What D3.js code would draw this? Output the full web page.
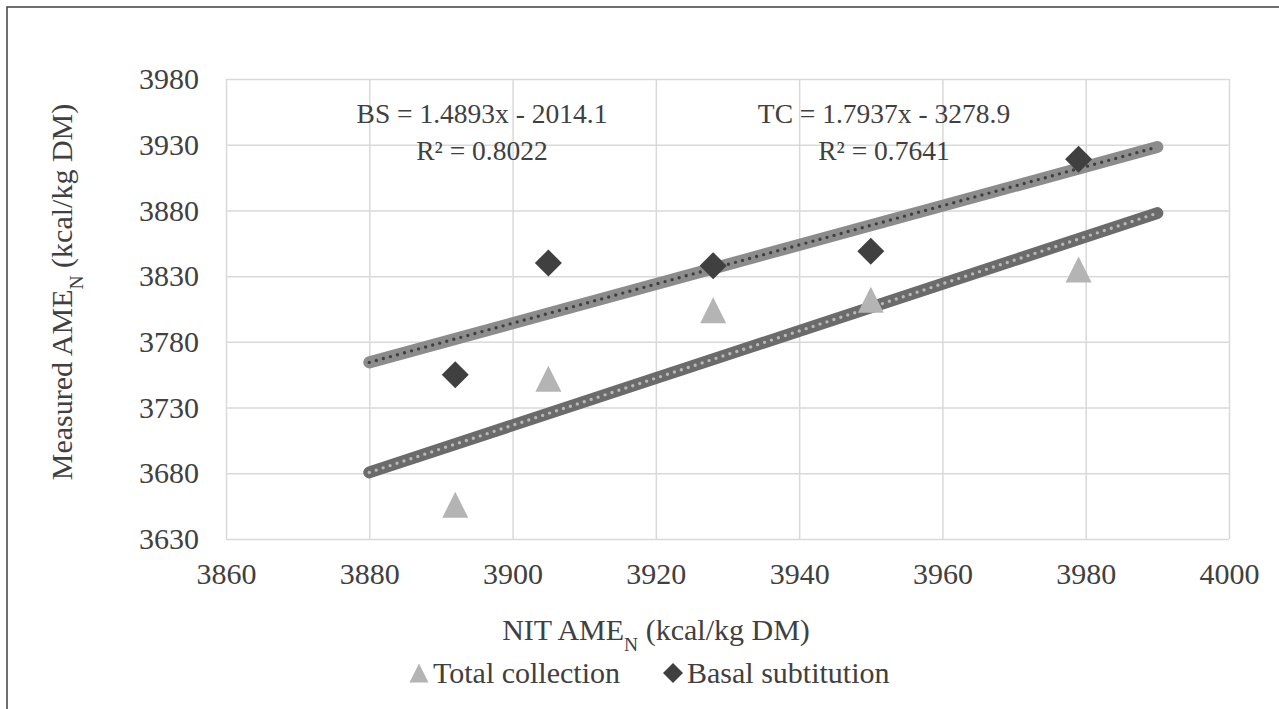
<!DOCTYPE html>
<html>
<head>
<meta charset="utf-8">
<script src="https://cdn.jsdelivr.net/npm/d3@7"></script>
<style>
body{margin:0;background:#fff;}
text{font-family:"Liberation Serif","Times New Roman",serif;fill:#404040;}
</style>
</head>
<body>
<svg id="chart" width="1279" height="709"></svg>
<script>
// values
var nitValues = [3892, 3905, 3928, 3950, 3979];
var totalCollection = [3656, 3752, 3804, 3812, 3835];
var basalSubstitution = [3755, 3840, 3838, 3849, 3919];

var xTicks = [3860, 3880, 3900, 3920, 3940, 3960, 3980, 4000];
var yTicks = [3630, 3680, 3730, 3780, 3830, 3880, 3930, 3980];

// trendlines as printed on the chart
var trendNames = ["BS", "TC"];
var trendSlopes = [1.4893, 1.7937];
var trendIntercepts = [-2014.1, -3278.9];
var trendR2 = [0.8022, 0.7641];
var trendFrom = 3880;
var trendTo = 3990;

var legendNames = ["Total collection", "Basal subtitution"];

var plotLeft = 226, plotRight = 1229, plotTop = 79, plotBottom = 539;
var fontSize = 30;

var svg = d3.select("#chart");

// outer chart border (only top/left visible in the picture)
svg.append("rect")
    .attr("x", 7).attr("y", 7)
    .attr("width", 1400).attr("height", 800)
    .attr("fill", "none")
    .attr("stroke", "#404040")
    .attr("stroke-width", 1.5);

var x = d3.scaleLinear().domain([3860, 4000]).range([plotLeft, plotRight]);
var y = d3.scaleLinear().domain([3630, 3980]).range([plotBottom, plotTop]);

var xAxis = svg.append("g")
    .attr("transform", "translate(0," + plotBottom + ")")
    .call(d3.axisBottom(x).tickValues(xTicks).tickFormat(d3.format("d"))
        .tickSizeInner(-(plotBottom - plotTop)).tickSizeOuter(0).tickPadding(24));

var yAxis = svg.append("g")
    .attr("transform", "translate(" + plotLeft + ",0)")
    .call(d3.axisLeft(y).tickValues(yTicks).tickFormat(d3.format("d"))
        .tickSizeInner(-(plotRight - plotLeft)).tickSizeOuter(0).tickPadding(27));

[xAxis, yAxis].forEach(function(g){
    g.select(".domain").remove();
    g.selectAll(".tick line").attr("stroke", "#d9d9d9").attr("stroke-width", 1.5);
    g.selectAll(".tick text")
        .attr("fill", "#404040")
        .style("font-size", fontSize + "px")
        .style("font-family", "'Liberation Serif','Times New Roman',serif");
});

// trend lines: thick band + dotted line on top
var bandColors = ["#8c8c8c", "#6b6b6b"];
var dotColors = ["#404040", "#b8b8b8"];

trendNames.forEach(function(name, i){
    var ends = [trendFrom, trendTo].map(function(v){
        return [v, trendSlopes[i] * v + trendIntercepts[i]];
    });
    var line = d3.line()
        .x(function(d){ return x(d[0]); })
        .y(function(d){ return y(d[1]); });

    svg.append("path")
        .attr("d", line(ends))
        .attr("stroke", bandColors[i])
        .attr("stroke-width", 12)
        .attr("stroke-linecap", "round")
        .attr("fill", "none");

    svg.append("path")
        .attr("d", line(ends))
        .attr("stroke", dotColors[i])
        .attr("stroke-width", 3.4)
        .attr("stroke-linecap", "round")
        .attr("stroke-dasharray", "0 7.3")
        .attr("fill", "none");
});

function trianglePath(s){
    return "M0," + (-s / 2) + "L" + (s / 2) + "," + (s / 2) + "L" + (-s / 2) + "," + (s / 2) + "Z";
}
function diamondPath(s){
    return "M0," + (-s / 2) + "L" + (s / 2) + ",0L0," + (s / 2) + "L" + (-s / 2) + ",0Z";
}

svg.selectAll("path.tc")
    .data(totalCollection)
    .enter()
    .append("path")
    .attr("class", "tc")
    .attr("d", trianglePath(26))
    .attr("fill", "#b4b4b4")
    .attr("transform", function(d, i){ return "translate(" + x(nitValues[i]) + "," + y(d) + ")"; });

svg.selectAll("path.bs")
    .data(basalSubstitution)
    .enter()
    .append("path")
    .attr("class", "bs")
    .attr("d", diamondPath(27))
    .attr("fill", "#404040")
    .attr("transform", function(d, i){ return "translate(" + x(nitValues[i]) + "," + y(d) + ")"; });

// equation labels
var labelX = [482, 884];
trendNames.forEach(function(name, i){
    var t = svg.append("text")
        .attr("text-anchor", "middle")
        .style("font-size", "27.5px");
    t.append("tspan")
        .attr("x", labelX[i]).attr("y", 123)
        .text(name + " = " + trendSlopes[i] + "x - " + Math.abs(trendIntercepts[i]).toFixed(1));
    t.append("tspan")
        .attr("x", labelX[i]).attr("y", 160)
        .text("R\u00b2 = " + trendR2[i].toFixed(4));
});

// axis titles with subscript N
function addTitle(sel, before, after){
    sel.append("tspan").text(before);
    sel.append("tspan")
        .attr("baseline-shift", "sub")
        .style("font-size", (fontSize * 0.65) + "px")
        .text("N");
    sel.append("tspan").text(after);
}

var xTitle = svg.append("text")
    .attr("x", 656)
    .attr("y", 640)
    .attr("text-anchor", "middle")
    .style("font-size", fontSize + "px");
addTitle(xTitle, "NIT AME", " (kcal/kg DM)");

var yTitle = svg.append("text")
    .attr("transform", "translate(72,292) rotate(-90)")
    .attr("text-anchor", "middle")
    .style("font-size", fontSize + "px");
addTitle(yTitle, "Measured AME", " (kcal/kg DM)");

// legend
var legendX = [419, 673];
var legendShapes = [trianglePath(19), diamondPath(20)];
var legendFills = ["#b4b4b4", "#404040"];
legendNames.forEach(function(name, i){
    svg.append("path")
        .attr("d", legendShapes[i])
        .attr("fill", legendFills[i])
        .attr("transform", "translate(" + legendX[i] + ",673)");
    svg.append("text")
        .attr("x", legendX[i] + 14)
        .attr("y", 683)
        .style("font-size", fontSize + "px")
        .text(name);
});
</script>
</body>
</html>
